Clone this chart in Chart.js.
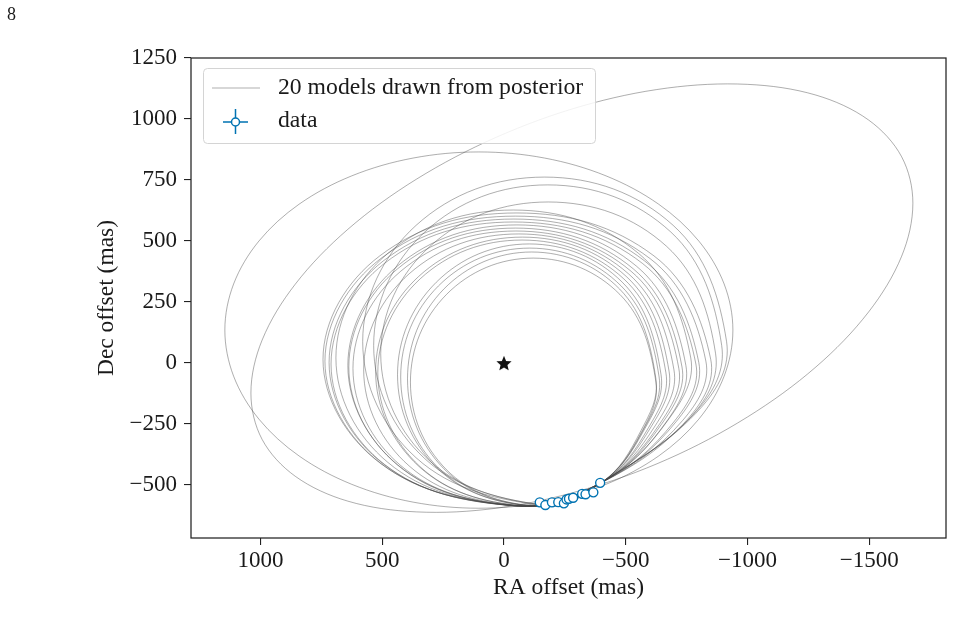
<!DOCTYPE html>
<html>
<head>
<meta charset="utf-8">
<script src="https://cdn.jsdelivr.net/npm/chart.js@4.4.0/dist/chart.umd.min.js"></script>
<style>
  html, body { margin: 0; padding: 0; background: #fff; }
  #wrap { width: 954px; height: 630px; }
</style>
</head>
<body>
<div id="wrap"><canvas id="orbitChart" width="954" height="630"></canvas></div>
<script>
// Ticks de los ejes (mas)
const xTicks = [1000, 500, 0, -500, -1000, -1500];
const yTicks = [-500, -250, 0, 250, 500, 750, 1000, 1250];

// Astrometría observada (RA, Dec en mas)
const dataRA  = [-147, -170, -197, -223, -246, -257, -267, -284, -321, -335, -367, -395];
const dataDec = [-571, -582, -571, -570, -575, -559, -556, -552, -536, -538, -530, -491];

// Estrella central
const starRA = [0];
const starDec = [0];

// 20 órbitas del posterior: cada una es un lazo cerrado de puntos [RA, Dec]
const orbits = [
  // órbita ancha
  [[-940,135],[-904,324],[-800,500],[-635,651],[-419,767],[-167,840],[103,865],[373,840],[625,767],[841,651],[1006,500],[1110,324],
   [1146,135],[1110,-54],[1006,-230],[841,-381],[625,-497],[373,-570],[103,-595],[-167,-570],[-419,-497],[-635,-381],[-800,-230],[-904,-54]],
  // órbita más excéntrica
  [[-1679,655],[-1633,845],[-1497,996],[-1281,1098],[-1000,1142],[-672,1127],[-320,1053],[32,925],[360,753],[641,548],[857,323],[993,94],
   [1039,-123],[993,-313],[857,-464],[641,-566],[360,-610],[32,-595],[-320,-521],[-672,-394],[-1000,-221],[-1281,-16],[-1497,209],[-1633,438]],
  // haz de órbitas casi circulares
  [[-914,88],[-695,564],[-167,762],[361,564],[580,88],[361,-388],[-167,-585],[-400,-490],[-810,-182]],
  [[-894,72],[-685,537],[-180,730],[325,537],[535,72],[325,-392],[-180,-585],[-400,-490],[-795,-192]],
  [[-869,38],[-668,478],[-182,660],[304,478],[506,38],[304,-402],[-182,-585],[-400,-490],[-774,-213]],
  [[-849,15],[-616,439],[-53,615],[510,439],[743,15],[510,-409],[-53,-585],[-400,-490],[-753,-231]],
  [[-829,8],[-600,428],[-47,602],[506,428],[735,8],[506,-411],[-47,-585],[-400,-490],[-734,-235]],
  [[-800,2],[-578,418],[-41,590],[496,418],[718,2],[496,-413],[-41,-585],[-400,-490],[-708,-239]],
  [[-788,-4],[-569,408],[-39,578],[491,408],[710,-4],[491,-415],[-39,-585],[-400,-490],[-697,-242]],
  [[-767,21],[-553,449],[-38,627],[477,449],[690,21],[477,-407],[-38,-585],[-400,-490],[-678,-228]],
  [[-747,-10],[-544,397],[-53,566],[438,397],[641,-10],[438,-416],[-53,-585],[-400,-490],[-663,-246]],
  [[-731,-16],[-531,386],[-47,553],[437,386],[637,-16],[437,-418],[-47,-585],[-400,-490],[-648,-249]],
  [[-718,-22],[-522,376],[-49,541],[424,376],[620,-22],[424,-420],[-49,-585],[-400,-490],[-637,-253]],
  [[-698,-28],[-511,366],[-61,529],[389,366],[576,-28],[389,-422],[-61,-585],[-400,-490],[-621,-257]],
  [[-678,-34],[-502,355],[-76,516],[350,355],[527,-34],[350,-423],[-76,-585],[-400,-490],[-605,-260]],
  [[-665,-40],[-492,345],[-74,504],[344,345],[518,-40],[344,-425],[-74,-585],[-400,-490],[-594,-264]],
  [[-645,-48],[-486,331],[-104,488],[278,331],[437,-48],[278,-427],[-104,-585],[-400,-490],[-579,-268]],
  [[-637,-57],[-481,316],[-106,471],[269,316],[424,-57],[269,-430],[-106,-585],[-400,-490],[-572,-274]],
  [[-624,-65],[-475,303],[-114,455],[247,303],[396,-65],[247,-433],[-114,-585],[-400,-490],[-562,-278]],
  [[-624,-78],[-476,281],[-120,430],[236,281],[384,-78],[236,-437],[-120,-585],[-400,-490],[-563,-286]]
];

const modelsLabel = '20 models drawn from posterior';
const dataLabel = 'data';

const SERIF = '"Liberation Serif", "Times New Roman", serif';
const BLUE = '#0173b2';
const LINE_GRAY = 'rgba(70,70,70,0.55)';
const TEXT = '#1a1a1a';
const HIDDEN = 'rgba(0,0,0,0)';

// Signo menos tipográfico como en la figura original
const fmt = v => (v < 0 ? '\u2212' + Math.abs(v) : String(v));

// Marcador de estrella rellena para el origen
function makeStar(r) {
  const c = document.createElement('canvas');
  const s = Math.ceil(r * 2) + 2;
  c.width = s; c.height = s;
  const g = c.getContext('2d');
  g.translate(s / 2, s / 2 + 0.8);
  g.beginPath();
  for (let i = 0; i < 10; i++) {
    const rad = i % 2 ? r * 0.45 : r;
    const a = -Math.PI / 2 + i * Math.PI / 5;
    g.lineTo(rad * Math.cos(a), rad * Math.sin(a));
  }
  g.closePath();
  g.fillStyle = '#111';
  g.fill();
  return c;
}

// Marco, número de página y leyenda dibujados a mano
const decorPlugin = {
  id: 'decor',
  afterDraw(chart) {
    const { ctx, chartArea: a } = chart;
    ctx.save();

    ctx.strokeStyle = '#222';
    ctx.lineWidth = 1.25;
    ctx.strokeRect(a.left, a.top, a.right - a.left, a.bottom - a.top);

    ctx.fillStyle = TEXT;
    ctx.font = '18px ' + SERIF;
    ctx.textBaseline = 'top';
    ctx.textAlign = 'left';
    ctx.fillText('8', 7, 6);

    // Leyenda
    const bx = 203.5, by = 68.5, bw = 392, bh = 75;
    ctx.beginPath();
    ctx.roundRect(bx, by, bw, bh, 4);
    ctx.fillStyle = 'rgba(255,255,255,0.85)';
    ctx.fill();
    ctx.strokeStyle = '#d4d4d4';
    ctx.lineWidth = 1;
    ctx.stroke();

    ctx.strokeStyle = LINE_GRAY;
    ctx.lineWidth = 0.8;
    ctx.beginPath();
    ctx.moveTo(212, 88);
    ctx.lineTo(260, 88);
    ctx.stroke();

    ctx.strokeStyle = BLUE;
    ctx.lineWidth = 1.5;
    ctx.beginPath();
    ctx.moveTo(223, 122); ctx.lineTo(248, 122);
    ctx.moveTo(235.5, 109); ctx.lineTo(235.5, 134);
    ctx.stroke();
    ctx.beginPath();
    ctx.arc(235.5, 122, 4, 0, Math.PI * 2);
    ctx.fillStyle = '#fff';
    ctx.fill();
    ctx.stroke();

    ctx.fillStyle = TEXT;
    ctx.font = '23.7px ' + SERIF;
    ctx.textBaseline = 'middle';
    ctx.fillText(modelsLabel, 278, 88);
    ctx.fillText(dataLabel, 278, 121);

    ctx.restore();
  }
};

// Cada lazo se envuelve con un punto extra a cada lado para que la curva
// cierre sin esquina; los tramos extremos quedan invisibles.
const orbitDatasets = orbits.map((pts, i) => {
  const n = pts.length;
  const wrapped = [pts[n - 1], ...pts, pts[0], pts[1]];
  return {
    label: i === 0 ? modelsLabel : '',
    data: wrapped.map(p => ({ x: p[0], y: p[1] })),
    showLine: true,
    pointRadius: 0,
    borderColor: LINE_GRAY,
    borderWidth: 0.8,
    tension: n > 12 ? 0.34 : 0.38,
    segment: {
      borderColor: c => (c.p0DataIndex === 0 || c.p1DataIndex === n + 2) ? HIDDEN : undefined
    },
    order: 2
  };
});

const ctx = document.getElementById('orbitChart').getContext('2d');
new Chart(ctx, {
  type: 'scatter',
  data: {
    datasets: [
      {
        label: dataLabel,
        data: dataRA.map((x, i) => ({ x, y: dataDec[i] })),
        pointRadius: 4.5,
        pointBorderWidth: 1.4,
        pointBackgroundColor: '#fff',
        pointBorderColor: BLUE,
        order: 0
      },
      {
        label: 'star',
        data: starRA.map((x, i) => ({ x, y: starDec[i] })),
        pointStyle: makeStar(8),
        order: 1
      },
      ...orbitDatasets
    ]
  },
  options: {
    responsive: false,
    animation: false,
    events: [],
    layout: { padding: { top: 58, right: 8, bottom: 0, left: 0 } },
    plugins: {
      legend: { display: false },
      tooltip: { enabled: false }
    },
    scales: {
      x: {
        type: 'linear',
        reverse: true,
        min: -1815,
        max: 1285,
        afterBuildTicks: s => { s.ticks = xTicks.map(v => ({ value: v })); },
        afterFit: s => { s.height = 92; },
        border: { display: false },
        grid: { display: true, drawOnChartArea: false, drawTicks: true, tickLength: 7, color: '#222', lineWidth: 1.1 },
        ticks: { color: TEXT, padding: 2, maxRotation: 0, font: { family: SERIF, size: 23 }, callback: fmt },
        title: { display: true, text: 'RA offset (mas)', color: TEXT, font: { family: SERIF, size: 23.5 }, padding: { top: 0, bottom: 28 } }
      },
      y: {
        type: 'linear',
        min: -717,
        max: 1250,
        afterBuildTicks: s => { s.ticks = yTicks.map(v => ({ value: v })); },
        afterFit: s => { s.width = 191; },
        border: { display: false },
        grid: { display: true, drawOnChartArea: false, drawTicks: true, tickLength: 7, color: '#222', lineWidth: 1.1 },
        ticks: { color: TEXT, padding: 7, font: { family: SERIF, size: 23 }, callback: fmt },
        title: { display: true, text: 'Dec offset (mas)', color: TEXT, font: { family: SERIF, size: 23.5 }, padding: { top: 93, bottom: 0 } }
      }
    }
  },
  plugins: [decorPlugin]
});
</script>
</body>
</html>
